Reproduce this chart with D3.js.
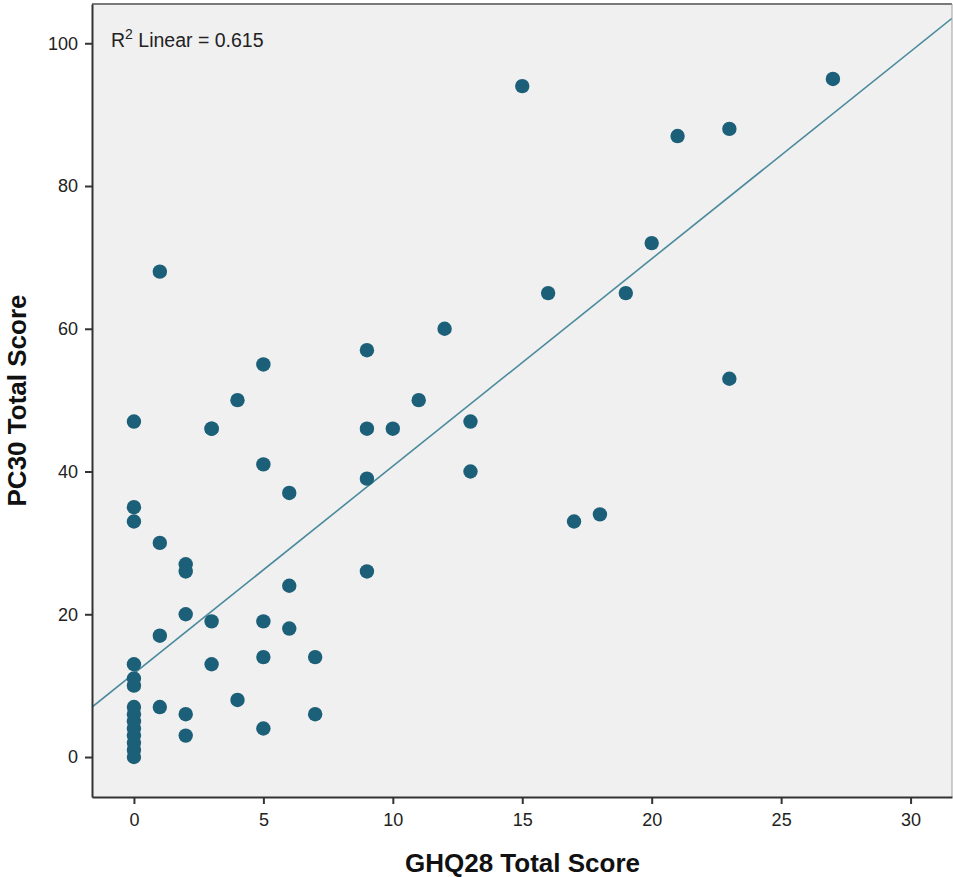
<!DOCTYPE html>
<html>
<head>
<meta charset="utf-8">
<script src="https://cdn.jsdelivr.net/npm/d3@7"></script>
<style>
  body { margin: 0; background: #fff; }
  text { font-family: "Liberation Sans", Arial, sans-serif; }
</style>
</head>
<body>
<div id="chart"></div>
<script>
// GHQ28 (x) and PC30 (y) scores
const ghq = [
  15, 27, 21, 23, 20, 16, 19, 1, 12, 9, 5, 23, 4, 11, 0, 3, 3, 9, 10, 13,
  5, 13, 9, 6, 0, 0, 17, 18, 1, 2, 2, 9, 6, 2, 3, 5, 6, 1, 5, 7,
  3, 0, 0, 0, 1, 2, 7, 4, 5, 2,
  0, 0, 0, 0, 0, 0, 0, 0
];
const pc30 = [
  94, 95, 87, 88, 72, 65, 65, 68, 60, 57, 55, 53, 50, 50, 47, 46, 46, 46, 46, 47,
  41, 40, 39, 37, 35, 33, 33, 34, 30, 27, 26, 26, 24, 20, 19, 19, 18, 17, 14, 14,
  13, 13, 11, 10, 7, 6, 6, 8, 4, 3,
  0, 1, 2, 3, 4, 5, 6, 7
];
const xTicks = [0, 5, 10, 15, 20, 25, 30];
const yTicks = [0, 20, 40, 60, 80, 100];
const fitIntercept = 11.7;
const fitSlope = 2.905;
const rSquared = "0.615";

const W = 953, H = 877;
const margin = { top: 4, right: 1, bottom: 80, left: 92 };

const svg = d3.select("#chart").append("svg")
  .attr("width", W)
  .attr("height", H);

const x = d3.scaleLinear().domain([-1.62, 31.6]).range([margin.left, W - margin.right]);
const y = d3.scaleLinear().domain([-5.6, 105.5]).range([H - margin.bottom, margin.top]);

// plot background
svg.append("rect")
  .attr("x", margin.left).attr("y", margin.top)
  .attr("width", W - margin.right - margin.left)
  .attr("height", H - margin.bottom - margin.top)
  .attr("fill", "#f0f0f0");

svg.append("clipPath").attr("id", "plot-clip")
  .append("rect")
  .attr("x", margin.left).attr("y", margin.top)
  .attr("width", W - margin.right - margin.left)
  .attr("height", H - margin.bottom - margin.top);

// fit line
const xd = x.domain();
svg.append("line")
  .attr("clip-path", "url(#plot-clip)")
  .attr("x1", x(xd[0])).attr("y1", y(fitIntercept + fitSlope * xd[0]))
  .attr("x2", x(xd[1])).attr("y2", y(fitIntercept + fitSlope * xd[1]))
  .attr("stroke", "#4a8a9c")
  .attr("stroke-width", 1.6);

// points
svg.append("g")
  .selectAll("circle")
  .data(ghq.map((g, i) => ({ g, p: pc30[i] })))
  .join("circle")
  .attr("cx", d => x(d.g))
  .attr("cy", d => y(d.p))
  .attr("r", 7.2)
  .attr("fill", "#1c5f78");

// frame
svg.append("line")
  .attr("x1", margin.left).attr("x2", W - margin.right)
  .attr("y1", margin.top).attr("y2", margin.top)
  .attr("stroke", "#7a7a7a").attr("stroke-width", 2);
svg.append("line")
  .attr("x1", W - margin.right).attr("x2", W - margin.right)
  .attr("y1", margin.top).attr("y2", H - margin.bottom)
  .attr("stroke", "#a0a0a0").attr("stroke-width", 1);

// axes
const xAxis = svg.append("g")
  .attr("transform", `translate(0,${H - margin.bottom})`)
  .call(d3.axisBottom(x).tickValues(xTicks).tickSize(7).tickPadding(9).tickSizeOuter(0));
const yAxis = svg.append("g")
  .attr("transform", `translate(${margin.left},0)`)
  .call(d3.axisLeft(y).tickValues(yTicks).tickSize(7).tickPadding(7).tickSizeOuter(0));

[xAxis, yAxis].forEach(a => {
  a.select(".domain").attr("stroke", "#333").attr("stroke-width", 2);
  a.selectAll(".tick line").attr("stroke", "#333").attr("stroke-width", 2);
  a.selectAll(".tick text").attr("fill", "#222").style("font-size", "18px");
});

// axis titles
svg.append("text")
  .attr("x", (margin.left + W) / 2)
  .attr("y", 872)
  .attr("text-anchor", "middle")
  .style("font-size", "26px").style("font-weight", "bold")
  .attr("fill", "#111")
  .text("GHQ28 Total Score");

svg.append("text")
  .attr("transform", `translate(26,${(margin.top + H - margin.bottom) / 2}) rotate(-90)`)
  .attr("text-anchor", "middle")
  .style("font-size", "26px").style("font-weight", "bold")
  .attr("fill", "#111")
  .text("PC30 Total Score");

// R squared annotation
const rt = svg.append("text")
  .attr("x", 111).attr("y", 47)
  .style("font-size", "19.5px").attr("fill", "#222");
rt.append("tspan").text("R");
rt.append("tspan").attr("dy", -8).style("font-size", "14px").text("2");
rt.append("tspan").attr("dy", 8).text(" Linear = " + rSquared);
</script>
</body>
</html>
